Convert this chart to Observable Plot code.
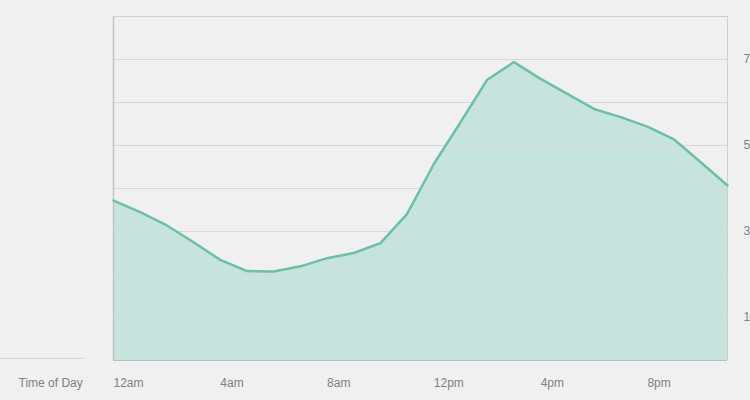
<!DOCTYPE html>
<html>
<head>
<meta charset="utf-8">
<script src="https://cdn.jsdelivr.net/npm/d3@7"></script>
<script src="https://cdn.jsdelivr.net/npm/@observablehq/plot@0.6"></script>
<style>
  html, body { margin: 0; padding: 0; background: #f0f0f0; overflow: hidden; }
  #chart { width: 750px; height: 400px; }
</style>
</head>
<body>
<div id="chart"></div>
<script>
const hours = d3.range(0, 24);
const values = [3.72, 3.45, 3.14, 2.75, 2.34, 2.08, 2.07, 2.19, 2.38, 2.5, 2.73, 3.41,
                4.57, 5.54, 6.53, 6.94, 6.55, 6.2, 5.85, 5.66, 5.44, 5.14, 4.61, 4.07];
const xTicks = [0, 4, 8, 12, 16, 20];
const xTickLabels = ["12am", "4am", "8am", "12pm", "4pm", "8pm"];
const yTicks = [1, 3, 5, 7];
const yTickLabels = ["1", "3", "5", "7"];
const gridValues = [1, 2, 3, 4, 5, 6, 7];

const data = hours.map((h, i) => ({hour: h, value: values[i]}));

const chart = Plot.plot({
  width: 750,
  height: 400,
  marginLeft: 113,
  marginRight: 23,
  marginTop: 16,
  marginBottom: 40,
  style: {background: "#f0f0f0", fontFamily: "'Liberation Sans', Arial, sans-serif", fontSize: "12px", color: "#808080"},
  x: {domain: [0, 23], axis: null},
  y: {domain: [0, 8], axis: null},
  marks: [
    Plot.areaY(data, {x: "hour", y: "value", fill: "#c6e3dd"}),
    Plot.ruleY(gridValues, {stroke: "#d8d8d8", strokeWidth: 1}),
    Plot.ruleY([8], {stroke: "#cfcfcf", strokeWidth: 1}),
    Plot.ruleY([0], {stroke: "#bdbdbd", strokeWidth: 1}),
    Plot.ruleX([0], {stroke: "#c4c4c4", strokeWidth: 1.5}),
    Plot.ruleX([23], {stroke: "#cfcfcf", strokeWidth: 1}),
    Plot.lineY(data, {x: "hour", y: "value", stroke: "#6dbfaa", strokeWidth: 2.5, strokeLinejoin: "round"}),
    Plot.text(xTicks, {x: d => d, text: (d, i) => xTickLabels[i], frameAnchor: "bottom", dy: 26, textAnchor: "start", fill: "#808080", fontSize: 12}),
    Plot.text(yTicks, {y: d => d, text: (d, i) => yTickLabels[i], frameAnchor: "right", dx: 16, textAnchor: "start", fill: "#808080", fontSize: 12}),
    Plot.text(["Time of Day"], {frameAnchor: "bottom-left", dx: -95, dy: 26, textAnchor: "start", fill: "#808080", fontSize: 12}),
    Plot.ruleY([0.05], {x1: -4.3, x2: -1.05, stroke: "#d6d6d6", strokeWidth: 1})
  ]
});
document.getElementById("chart").appendChild(chart);
</script>
</body>
</html>
